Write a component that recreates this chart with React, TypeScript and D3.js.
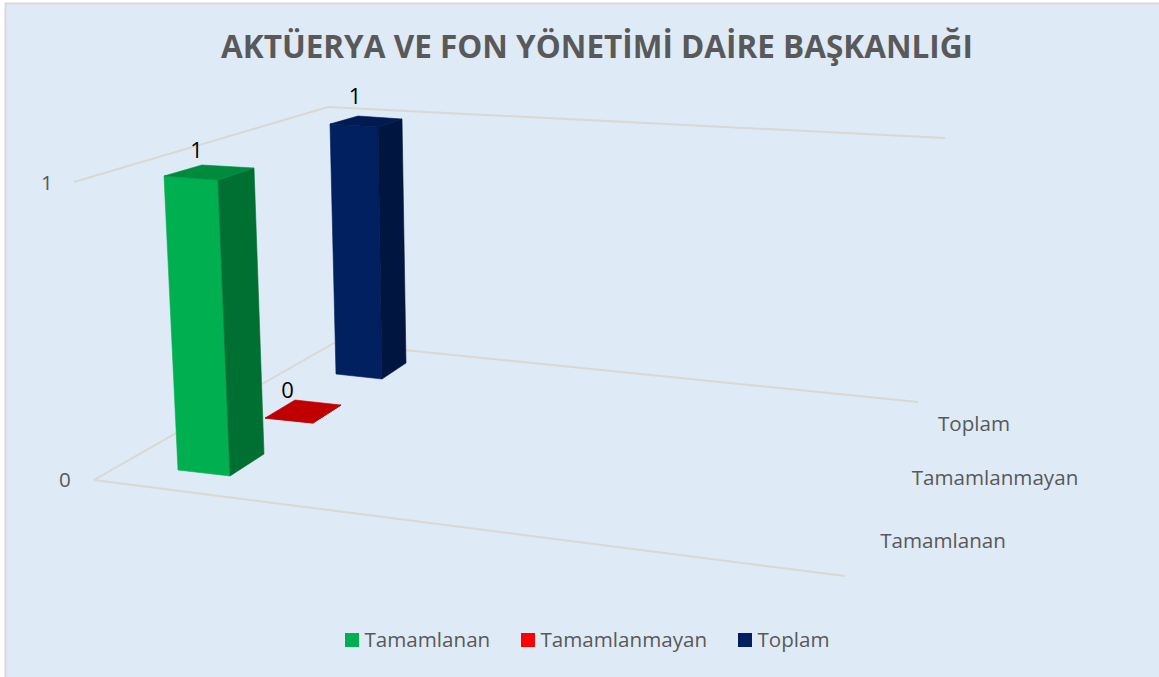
import React from "react";
import * as d3 from "d3";

const seriesNames = ["Tamamlanan", "Tamamlanmayan", "Toplam"];
const seriesValues = [1, 0, 1];
const valueLabels = ["1", "0", "1"];
const valueTicks = [0, 1];
const legendColors = ["#00B050", "#FF0000", "#002060"];
const frontColors = ["#00B050", "#C00000", "#002060"];
const sideColors = ["#007032", "#8A0000", "#001540"];
const topColors = ["#008A3E", "#C00000", "#001A52"];
const title = "AKTÜERYA VE FON YÖNETİMİ DAİRE BAŞKANLIĞI";

const W = 1159;
const H = 677;
const TEXT = "#595959";
const GRID = "#D9D8D4";
const FONT = "'Open Sans', 'Noto Sans', sans-serif";

// Projection of the 3D box: depth stops (series index + 0 front / + .5 back)
const depthStops = [0, 0.5, 1, 1.5, 2, 2.5];
const proj = (range: number[]) => d3.scaleLinear().domain(depthStops).range(range);
const floorLX = proj([178, 212, 265, 295, 336, 360]);
const floorLY = proj([470, 448, 418, 400, 374, 358]);
const floorRX = proj([230, 264, 313, 341, 382, 406]);
const floorRY = proj([476, 454, 423, 405, 379, 363]);
const riseLX = proj([-14, -10, -9, -7, -6, -2]);
const riseLY = proj([-294, -283, -272, -262, -250, -242]);
const riseRX = proj([-12, -10, -7, -6, -4, -4]);
const riseRY = proj([-296, -286, -274, -264, -252, -244]);
const heightScale = d3.scaleLinear().domain([0, 1]).range([0, 1]);

type Pt = [number, number];
const vertex = (i: number, back: number, right: number, v: number): Pt => {
  const d = i + back * 0.5;
  const h = heightScale(v);
  return right
    ? [floorRX(d) + riseRX(d) * h, floorRY(d) + riseRY(d) * h]
    : [floorLX(d) + riseLX(d) * h, floorLY(d) + riseLY(d) * h];
};
const poly = d3.line<Pt>().curve(d3.curveLinearClosed);

// Frame of the 3D plot
const frameLines: [Pt, Pt][] = [
  [[94, 480], [845, 576]],
  [[94, 480], [334, 343]],
  [[334, 343], [918, 402]],
  [[74, 182], [328, 107]],
  [[328, 107], [945, 138]],
];
const valueTickY = d3.scaleLinear().domain([0, 1]).range([480, 183]);
const valueTickX = d3.scaleLinear().domain([0, 1]).range([65, 47]);
const catLabelX = [943, 995, 974];
const catLabelY = [541, 478, 424];
const legendX = [345, 521, 738];
const labelShiftX = [-13, -16, -12];
const labelShiftY = [-22, -21, -25];

export default function App() {
  return (
    <svg
      width={W}
      height={H}
      viewBox={`0 0 ${W} ${H}`}
      style={{ position: "fixed", left: 0, top: 0, display: "block", background: "#fff" }}
    >
      <rect x={5.5} y={3.5} width={W} height={H} fill="#DEEAF6" stroke="#D9D9D9" strokeWidth={2} />
      <text x={597} y={57.5} textAnchor="middle" fontFamily={FONT} fontWeight={700} fontSize={32.5} fill={TEXT}
        textLength={752} lengthAdjust="spacingAndGlyphs">
        {title}
      </text>

      {frameLines.map(([a, b], i) => (
        <line key={i} x1={a[0]} y1={a[1]} x2={b[0]} y2={b[1]} stroke={GRID} strokeWidth={2} />
      ))}

      {valueTicks.map((t) => (
        <text key={t} x={valueTickX(t)} y={valueTickY(t)} dy="0.36em" textAnchor="middle" fontFamily={FONT} fontSize={20.6} fill={TEXT}>
          {t}
        </text>
      ))}

      {seriesNames.map((n, i) => (
        <text key={n} x={catLabelX[i]} y={catLabelY[i]} dy="0.36em" textAnchor="middle" fontFamily={FONT} fontSize={20.6} fill={TEXT}>
          {n}
        </text>
      ))}

      {[2, 1, 0].map((i) => {
        const v = seriesValues[i];
        const top = [vertex(i, 0, 0, v), vertex(i, 0, 1, v), vertex(i, 1, 1, v), vertex(i, 1, 0, v)];
        const front = [vertex(i, 0, 0, 0), vertex(i, 0, 1, 0), vertex(i, 0, 1, v), vertex(i, 0, 0, v)];
        const side = [vertex(i, 0, 1, 0), vertex(i, 1, 1, 0), vertex(i, 1, 1, v), vertex(i, 0, 1, v)];
        const cx = d3.mean(top, (p) => p[0])!;
        const cy = d3.mean(top, (p) => p[1])!;
        return (
          <g key={seriesNames[i]}>
            <path d={poly(front)!} fill={frontColors[i]} stroke={frontColors[i]} strokeWidth={0.6} />
            <path d={poly(side)!} fill={sideColors[i]} stroke={sideColors[i]} strokeWidth={0.6} />
            <path d={poly(top)!} fill={topColors[i]} stroke={topColors[i]} strokeWidth={0.6} />
            <text x={cx + labelShiftX[i]} y={cy + labelShiftY[i]} dy="0.36em" textAnchor="middle" fontFamily={FONT} fontSize={22} fill="#000">
              {valueLabels[i]}
            </text>
          </g>
        );
      })}

      {seriesNames.map((n, i) => (
        <g key={n}>
          <rect x={legendX[i]} y={633} width={14} height={14} fill={legendColors[i]} />
          <text x={legendX[i] + 19.5} y={647} fontFamily={FONT} fontSize={20.6} fill={TEXT}>
            {n}
          </text>
        </g>
      ))}
    </svg>
  );
}
